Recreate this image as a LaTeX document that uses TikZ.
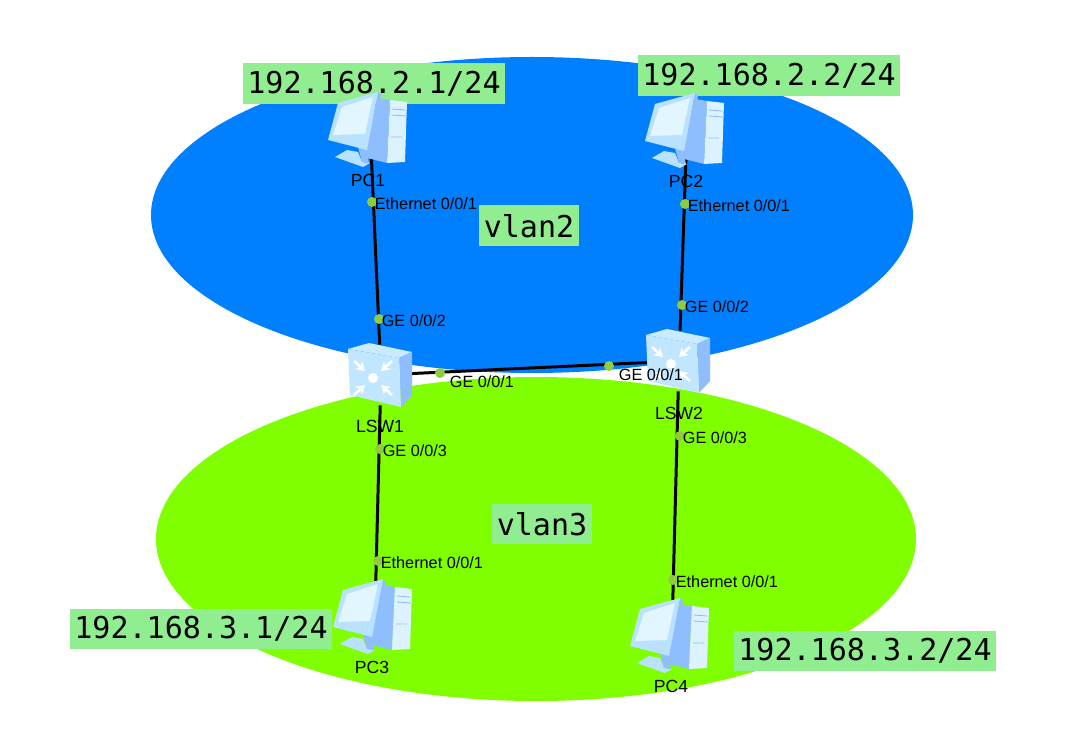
\documentclass[tikz,border=0pt]{standalone}
\usepackage{fontspec}
\usetikzlibrary{arrows.meta,positioning}
\setmainfont{Liberation Sans}
\newfontfamily\labelmono{DejaVu Sans Mono}
\definecolor{netblue}{HTML}{0080FF}
\definecolor{netgreen}{HTML}{80FF00}
\definecolor{boxgreen}{HTML}{90EE90}
\definecolor{dotgreen}{HTML}{8FCC3F}
\definecolor{icondeep}{HTML}{8FBEFF}
\definecolor{iconmid}{HTML}{B8E2FF}
\definecolor{iconpale}{HTML}{E2F6FF}
\tikzset{
  ipbox/.style={fill=boxgreen,inner sep=0pt,minimum width=5.26cm,minimum height=0.82cm,font=\labelmono\fontsize{17.1}{19}\selectfont},
  vlanbox/.style={ipbox,minimum width=2cm},
  link/.style={draw=black,line width=1.7pt},
  pcnode/.style={inner sep=0pt,minimum width=1.6cm,minimum height=1.2cm},
  swnode/.style={inner sep=0pt,minimum width=1.2cm,minimum height=1.2cm},
  portdot/.style={circle,fill=dotgreen,inner sep=0pt,minimum size=0.2cm},
  portlabel/.style={font=\fontsize{9.25}{11}\selectfont,inner sep=0pt,anchor=west,xshift=0.05cm,yshift=-0.03cm},
  devlabel/.style={font=\fontsize{10}{12}\selectfont,inner sep=0pt},
  pcicon/.pic={
    % tower
    \fill[icondeep] (8,-27) -- (20,-25) -- (17,38) -- (-7,32) -- cycle;
    \fill[iconpale!85!iconmid] (20,-25) -- (37,-23) -- (35,37) -- (17,38) -- cycle;
    \draw[icondeep,line width=0.5pt] (22,-16) -- (35,-15) (22,-10) -- (36,-9) (21,12) -- (32,12);
    % stand
    \fill[iconmid] (-35,32) -- (-23,25) -- (-12,27) -- (-8,37) -- (0,38) -- (-7,42) -- cycle;
    \fill[icondeep] (-12,22) -- (-4,24) -- (-1,38) -- (-8,37) -- cycle;
    % monitor
    \fill[icondeep] (8,-33) -- (11,-30) -- (-1,25) -- (-3,25) -- cycle;
    \fill[iconmid] (8,-33) -- (-32,-22) -- (-42,15) -- (-3,25) -- cycle;
    \fill[iconpale] (3,-28) -- (-28,-18) -- (-37,10) -- (-5,9) -- cycle;
  },
  swicon/.pic={
    \fill[iconmid!60!iconpale] (-33,-26) -- (-12,-32) -- (31,-23) -- (18,-17) -- cycle;
    \fill[icondeep] (18,-17) -- (31,-23) -- (31,20) -- (20,32) -- cycle;
    \fill[iconmid!80!iconpale] (-33,-26) -- (18,-17) -- (20,32) -- (-31,20) -- cycle;
    \fill[white] (-8,3) circle (5);
    \foreach \dx/\dy in {-1/-1,1/-1,-1/1,1/1}
      \draw[white,line width=1.5pt,-{Stealth[length=5pt,width=6pt]}] (-8+19*\dx,3+17*\dy) -- (-8+8*\dx,3+7*\dy);
  }
}
\begin{document}
\begin{tikzpicture}[x=0.02cm,y=-0.02cm]
  \path[use as bounding box] (0,0) rectangle (1072,756);

  % ---- vlan areas --------------------------------------------
  \fill[netblue] (532,215) ellipse [x radius=381,y radius=158];
  \fill[netgreen] (536,539) ellipse [x radius=380,y radius=162];

  % ---- Devices -----------------------------------------------
  \node[pcnode] (pc1) at (370,125) {};
  \node[pcnode] (pc2) at (687,126) {};
  \node[pcnode] (pc3) at (375,612) {};
  \node[pcnode] (pc4) at (672,631) {};
  \node[swnode] (lsw1) at (381,375) {};
  \node[swnode] (lsw2) at (679,361) {};

  % ---- Links -------------------------------------------------
  \draw[link] (pc1) -- (lsw1);
  \draw[link] (pc2) -- (lsw2);
  \draw[link] (lsw1) -- (lsw2);
  \draw[link] (lsw1) -- (pc3);
  \draw[link] (lsw2) -- (pc4);

  % ---- Address and vlan labels -------------------------------
  \node[ipbox] (ip1) at (374,84) {192.168.2.1/24};
  \node[ipbox] (ip2) at (769,76) {192.168.2.2/24};
  \node[ipbox] (ip3) at (201,629) {192.168.3.1/24};
  \node[ipbox] (ip4) at (865,651) {192.168.3.2/24};
  \node[vlanbox] (vlan2) at (529,226) {vlan2};
  \node[vlanbox] (vlan3) at (542,524) {vlan3};

  % ---- Icons -------------------------------------------------
  \pic at (pc1) {pcicon};
  \pic at (pc2) {pcicon};
  \pic at (pc3) {pcicon};
  \pic at (pc4) {pcicon};
  \pic at (lsw1) {swicon};
  \pic at (lsw2) {swicon};

  \node[devlabel] (pc1name) at (368,180) {PC1};
  \node[devlabel] (pc2name) at (686,181) {PC2};
  \node[devlabel] (pc3name) at (372,667) {PC3};
  \node[devlabel] (pc4name) at (671,686) {PC4};
  \node[devlabel] (lsw1name) at (380,426) {LSW1};
  \node[devlabel] (lsw2name) at (679,413) {LSW2};

  % ---- Ports -------------------------------------------------
  \node[portdot] (p1) at (372,202) {};
  \node[portlabel] (p1text) at (p1) {Ethernet 0/0/1};
  \node[portdot] (p2) at (685,204) {};
  \node[portlabel] (p2text) at (p2) {Ethernet 0/0/1};
  \node[portdot] (p3) at (379,319) {};
  \node[portlabel] (p3text) at (p3) {GE 0/0/2};
  \node[portdot] (p4) at (682,305) {};
  \node[portlabel] (p4text) at (p4) {GE 0/0/2};
  \node[portdot] (p5) at (440,373) {};
  \node[portlabel] (p5text) at (447,380) {GE 0/0/1};
  \node[portdot] (p6) at (609,366) {};
  \node[portlabel] (p6text) at (616,373) {GE 0/0/1};
  \node[portdot] (p7) at (380,449) {};
  \node[portlabel] (p7text) at (p7) {GE 0/0/3};
  \node[portdot] (p8) at (680,436) {};
  \node[portlabel] (p8text) at (p8) {GE 0/0/3};
  \node[portdot] (p9) at (378,561) {};
  \node[portlabel] (p9text) at (p9) {Ethernet 0/0/1};
  \node[portdot] (p10) at (673,580) {};
  \node[portlabel] (p10text) at (p10) {Ethernet 0/0/1};

\end{tikzpicture}
\end{document}
